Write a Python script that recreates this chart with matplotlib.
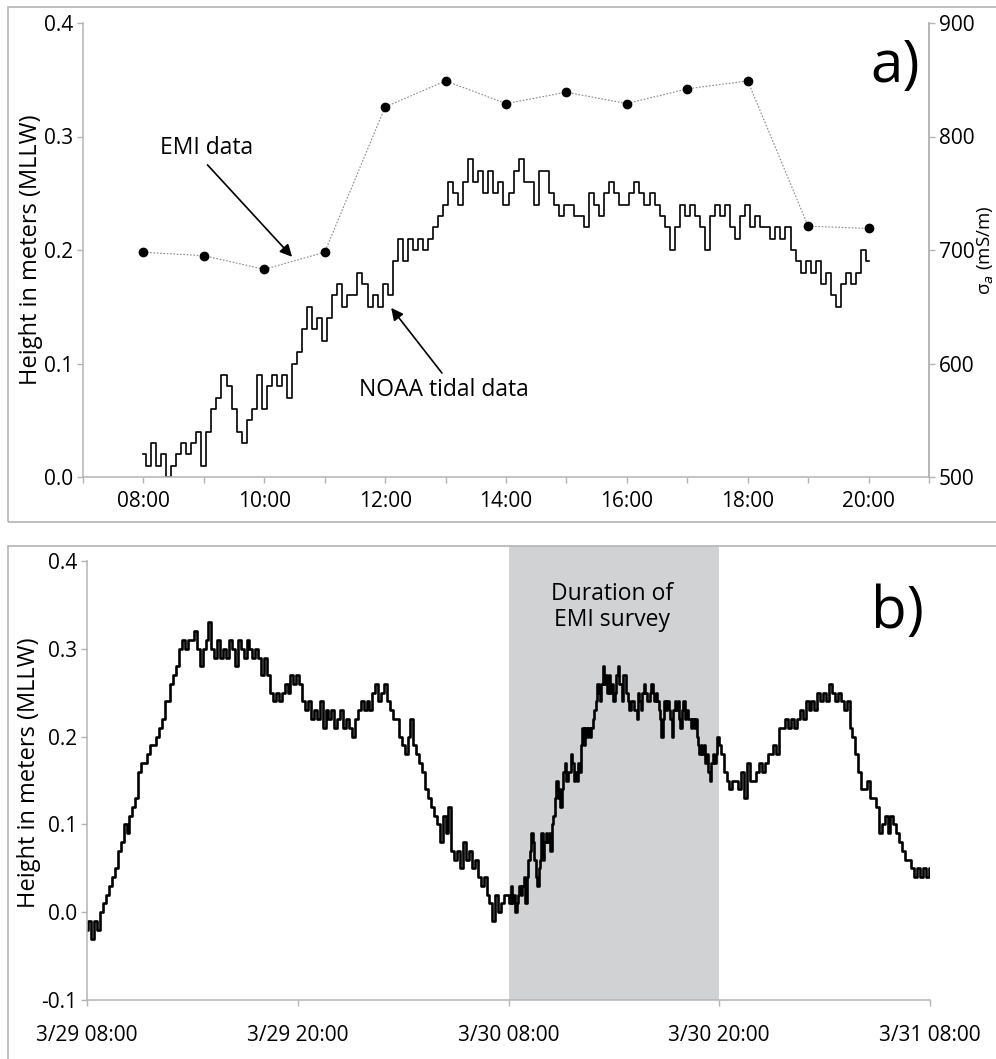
import matplotlib
matplotlib.use("Agg")
import matplotlib.pyplot as plt
import numpy as np
from matplotlib.patches import Rectangle

plt.rcParams['font.family'] = ['Open Sans', 'DejaVu Sans']

# ---- data ----
# NOAA tide, 3/30 08:00 - 20:00, every 5 min (m, MLLW)
tide_survey = [
    0.02, 0.01, 0.03, 0.01, 0.02, 0.00, 0.01, 0.02, 0.03, 0.02, 0.03, 0.04,
    0.01, 0.04, 0.06, 0.07, 0.09, 0.08, 0.06, 0.04, 0.03, 0.05, 0.06, 0.09,
    0.06, 0.08, 0.09, 0.08, 0.09, 0.07, 0.10, 0.11, 0.13, 0.15, 0.13, 0.14,
    0.12, 0.14, 0.16, 0.17, 0.15, 0.16, 0.16, 0.18, 0.17, 0.15, 0.16, 0.15,
    0.17, 0.16, 0.19, 0.21, 0.19, 0.21, 0.20, 0.21, 0.20, 0.21, 0.22, 0.23,
    0.24, 0.26, 0.25, 0.24, 0.26, 0.28, 0.26, 0.27, 0.25, 0.27, 0.25, 0.26,
    0.24, 0.25, 0.27, 0.28, 0.26, 0.26, 0.24, 0.27, 0.27, 0.25, 0.24, 0.23,
    0.24, 0.24, 0.23, 0.23, 0.22, 0.25, 0.24, 0.23, 0.25, 0.26, 0.25, 0.24,
    0.24, 0.25, 0.26, 0.25, 0.24, 0.25, 0.24, 0.23, 0.22, 0.20, 0.22, 0.24,
    0.23, 0.24, 0.23, 0.22, 0.20, 0.23, 0.24, 0.23, 0.24, 0.22, 0.21, 0.23,
    0.24, 0.22, 0.23, 0.22, 0.22, 0.21, 0.22, 0.21, 0.22, 0.20, 0.19, 0.18,
    0.19, 0.18, 0.19, 0.17, 0.18, 0.16, 0.15, 0.17, 0.18, 0.17, 0.18, 0.20,
    0.19,
]

# NOAA tide, 3/29 08:00 - 3/30 07:50, every 10 min
tide_before = [
    -0.02, -0.01, -0.03, -0.01, -0.02, 0.00,
    0.01, 0.02, 0.03, 0.04, 0.05, 0.07,
    0.08, 0.10, 0.09, 0.11, 0.12, 0.13,
    0.16, 0.17, 0.17, 0.18, 0.19, 0.19,
    0.20, 0.21, 0.22, 0.24, 0.24, 0.26,
    0.27, 0.28, 0.30, 0.31, 0.30, 0.31,
    0.31, 0.32, 0.30, 0.28, 0.30, 0.31,
    0.33, 0.30, 0.29, 0.31, 0.29, 0.30,
    0.29, 0.31, 0.30, 0.28, 0.31, 0.30,
    0.29, 0.31, 0.30, 0.29, 0.30, 0.29,
    0.27, 0.29, 0.27, 0.25, 0.24, 0.25,
    0.24, 0.25, 0.26, 0.25, 0.27, 0.26,
    0.27, 0.26, 0.24, 0.23, 0.24, 0.22,
    0.23, 0.22, 0.24, 0.21, 0.23, 0.22,
    0.23, 0.21, 0.22, 0.23, 0.21, 0.22,
    0.21, 0.20, 0.22, 0.23, 0.24, 0.23,
    0.24, 0.23, 0.25, 0.26, 0.24, 0.25,
    0.26, 0.24, 0.23, 0.22, 0.22, 0.20,
    0.19, 0.18, 0.20, 0.22, 0.19, 0.18,
    0.17, 0.16, 0.14, 0.13, 0.12, 0.11,
    0.10, 0.08, 0.11, 0.09, 0.12, 0.07,
    0.06, 0.07, 0.05, 0.08, 0.06, 0.07,
    0.05, 0.06, 0.04, 0.03, 0.04, 0.02,
    0.01, -0.01, 0.02, 0.00, 0.01, 0.02,
]

# NOAA tide, 3/30 20:10 - 3/31 08:00, every 10 min
tide_after = [
    0.18, 0.16, 0.15, 0.14, 0.15,
    0.15, 0.14, 0.16, 0.13, 0.17, 0.15,
    0.15, 0.16, 0.17, 0.16, 0.17, 0.18,
    0.18, 0.19, 0.18, 0.21, 0.21, 0.22,
    0.21, 0.22, 0.21, 0.22, 0.23, 0.22,
    0.24, 0.23, 0.24, 0.23, 0.25, 0.24,
    0.25, 0.24, 0.26, 0.25, 0.24, 0.25,
    0.24, 0.23, 0.24, 0.21, 0.20, 0.18,
    0.16, 0.14, 0.14, 0.15, 0.13, 0.13,
    0.12, 0.09, 0.10, 0.11, 0.09, 0.11,
    0.10, 0.09, 0.08, 0.07, 0.06, 0.06,
    0.05, 0.04, 0.05, 0.04, 0.05, 0.04,
    0.05,
]

# EMI apparent conductivity, hourly 08:00 - 20:00 (mS/m)
emi_hours = [8, 9, 10, 11, 12, 13, 14, 15, 16, 17, 18, 19, 20]
emi_sigma = [698, 695, 683, 698, 826, 849, 829, 839, 829, 842, 849, 721, 719]

date_labels_b = ['3/29 08:00', '3/29 20:00', '3/30 08:00', '3/30 20:00', '3/31 08:00']

# ---- time axes (hours) ----
t_survey = 8 + np.arange(len(tide_survey)) * 5 / 60
t_before = np.arange(len(tide_before)) / 6
t_mid = 24 + np.arange(len(tide_survey)) * 5 / 60
t_after = 36 + (np.arange(len(tide_after)) + 1) / 6
t_all = np.concatenate([t_before, t_mid, t_after])
tide_all = np.concatenate([tide_before, tide_survey, tide_after])

spine_c = '#b4b4b4'
fs_tick = 15
fs_lab = 17
fs_note = 16.5

fig = plt.figure(figsize=(9.96, 10.59), dpi=100)

# frames around the two panels
fig.patches.append(Rectangle((8 / 996, 1 - 522 / 1059), 1.2, 515 / 1059,
                             transform=fig.transFigure, fill=False,
                             edgecolor=spine_c, lw=1.2))
fig.patches.append(Rectangle((8 / 996, -0.1), 1.2, 0.1 + 1 - 546 / 1059,
                             transform=fig.transFigure, fill=False,
                             edgecolor=spine_c, lw=1.2))


def style_axis(ax):
    for s in ax.spines.values():
        s.set_color(spine_c)
        s.set_linewidth(1.1)
    ax.tick_params(colors=spine_c, labelcolor='black', labelsize=fs_tick,
                   length=4, width=1.0, direction='out', pad=3)


# ---- panel a ----
ax1 = fig.add_axes([83 / 996, 1 - 477 / 1059, 846 / 996, 454 / 1059])
ax1.plot(t_survey, tide_survey, color='black', lw=1.2, drawstyle='steps-mid')
ax1.set_xlim(7, 21)
ax1.set_ylim(0, 0.4)
ax1.set_xticks(range(7, 22))
ax1.set_xticklabels(['' if h % 2 else '%02d:00' % h for h in range(7, 22)])
ax1.set_yticks([0, 0.1, 0.2, 0.3, 0.4])
ax1.set_yticklabels(['0.0', '0.1', '0.2', '0.3', '0.4'])
ax1.spines['top'].set_visible(False)
style_axis(ax1)
ax1.tick_params(axis='x', pad=6)
ax1.set_ylabel('Height in meters (MLLW)', fontsize=fs_lab, labelpad=0.5)

ax1r = ax1.twinx()
ax1r.plot(emi_hours, emi_sigma, color='#888888', lw=0.8, ls=(0, (1.5, 1.5)),
          marker='o', ms=6, mfc='black', mec='black')
ax1r.set_ylim(500, 900)
ax1r.set_yticks([500, 600, 700, 800, 900])
ax1r.spines['top'].set_visible(False)
ax1r.spines['left'].set_visible(False)
ax1r.spines['bottom'].set_visible(False)
style_axis(ax1r)
ax1r.set_ylabel(r'σ$_\mathit{a}$ (mS/m)', fontsize=13.5, labelpad=1)

ax1.text(9.04, 0.29, 'EMI data', fontsize=fs_note, ha='center', va='center')
ax1.annotate('', xy=(10.46, 0.194), xytext=(9.06, 0.275),
             arrowprops=dict(arrowstyle='-|>', color='black', lw=1.2,
                             mutation_scale=18, shrinkA=0, shrinkB=0))
ax1.text(12.98, 0.0767, 'NOAA tidal data', fontsize=fs_note, ha='center', va='center')
ax1.annotate('', xy=(12.10, 0.149), xytext=(12.94, 0.0916),
             arrowprops=dict(arrowstyle='-|>', color='black', lw=1.2,
                             mutation_scale=18, shrinkA=0, shrinkB=0))
fig.text(895 / 996, 1 - 67 / 1059, 'a)', fontsize=42, ha='center', va='center')

# ---- panel b ----
ax2 = fig.add_axes([87 / 996, 1 - 1000 / 1059, 843 / 996, 454 / 1059])
ax2.axvspan(24, 36, color='#d1d2d4', lw=0, zorder=0)
ax2.plot(t_all, tide_all, color='black', lw=1.9, drawstyle='steps-mid')
ax2.set_xlim(0, 48)
ax2.set_ylim(-0.1, 0.4 + 15 / 878)
ax2.set_xticks([0, 12, 24, 36, 48])
ax2.set_xticklabels(date_labels_b)
ax2.set_yticks([-0.1, 0.0, 0.1, 0.2, 0.3, 0.4])
ax2.set_yticklabels(['-0.1', '0.0', '0.1', '0.2', '0.3', '0.4'])
ax2.spines['top'].set_visible(False)
ax2.spines['right'].set_visible(False)
ax2.spines['left'].set_bounds(-0.1, 0.4)
style_axis(ax2)
ax2.tick_params(axis='x', pad=14)
ax2.set_ylabel('Height in meters (MLLW)', fontsize=fs_lab, labelpad=0.5)
ax2.text(29.9, 0.3476, 'Duration of\nEMI survey', fontsize=fs_note,
         ha='center', va='center', linespacing=1.15)
fig.text(897 / 996, 1 - 613 / 1059, 'b)', fontsize=42, ha='center', va='center')

fig.savefig('out.png', dpi=100)
